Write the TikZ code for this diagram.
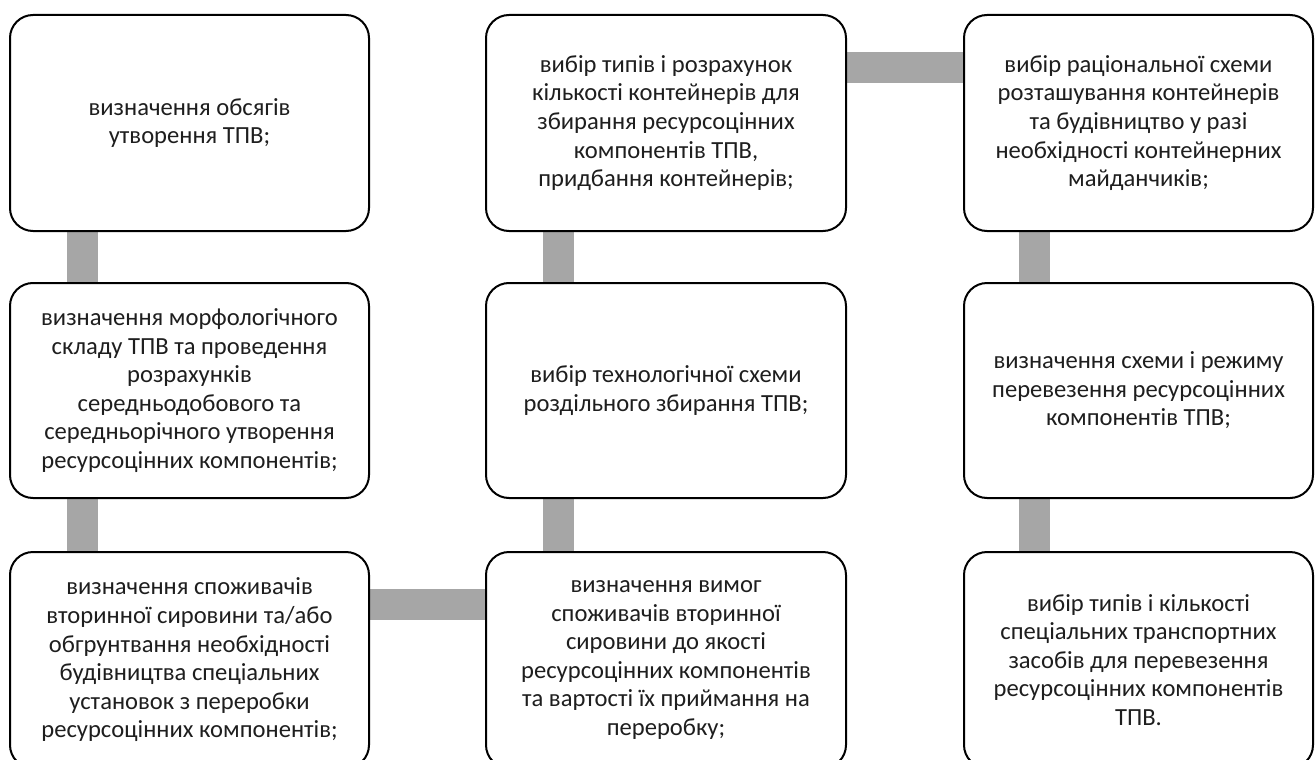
\documentclass[tikz,border=0pt]{standalone}
\usepackage{fontspec}
\setmainfont{Carlito}
\usetikzlibrary{backgrounds}
\definecolor{bargray}{HTML}{A6A6A6}
\definecolor{txt}{HTML}{1E1E1E}
\tikzset{
  box/.style={draw=black, line width=2pt, rounded corners=23pt, fill=white,
    rectangle, inner sep=0pt, align=center, text=txt,
    font=\fontsize{24.6}{28.6}\selectfont},
  bar/.style={draw=bargray, line width=31pt},
}
\begin{document}
\begin{tikzpicture}[x=1pt,y=-1pt]
\useasboundingbox (0,0) rectangle (1315,760);
\clip (0,0) rectangle (1315,760);
% column 1
\node[box, minimum width=359pt, minimum height=216pt] (a1) at (189.5,123) {визначення обсягів\\утворення ТПВ;};
\node[box, minimum width=359pt, minimum height=215pt] (a2) at (189.5,390.5) {визначення морфологічного\\складу ТПВ та проведення\\розрахунків\\середньодобового та\\середньорічного утворення\\ресурсоцінних компонентів;};
\node[box, minimum width=359pt, minimum height=216pt] (a3) at (189.5,660) {визначення споживачів\\вторинної сировини та/або\\обгрунтвання необхідності\\будівництва спеціальних\\установок з переробки\\ресурсоцінних компонентів;};
% column 2
\node[box, minimum width=360pt, minimum height=216pt] (b1) at (666,123) {вибір типів і розрахунок\\кількості контейнерів для\\збирання ресурсоцінних\\компонентів ТПВ,\\придбання контейнерів;};
\node[box, minimum width=360pt, minimum height=215pt] (b2) at (666,390.5) {вибір технологічної схеми\\роздільного збирання ТПВ;};
\node[box, minimum width=360pt, minimum height=216pt] (b3) at (666,660) {визначення вимог\\споживачів вторинної\\сировини до якості\\ресурсоцінних компонентів\\та вартості їх приймання на\\переробку;};
% column 3
\node[box, minimum width=349pt, minimum height=216pt] (c1) at (1138.5,123) {вибір раціональної схеми\\розташування контейнерів\\та будівництво у разі\\необхідності контейнерних\\майданчиків;};
\node[box, minimum width=349pt, minimum height=215pt] (c2) at (1138.5,390.5) {визначення схеми і режиму\\перевезення ресурсоцінних\\компонентів ТПВ;};
\node[box, minimum width=349pt, minimum height=216pt] (c3) at (1138.5,660) {вибір типів і кількості\\спеціальних транспортних\\засобів для перевезення\\ресурсоцінних компонентів\\ТПВ.};
\begin{scope}[on background layer]
\draw[bar] ([xshift=73.5pt]a1.south west) -- ([xshift=73.5pt]a2.north west);
\draw[bar] ([xshift=73.5pt]a2.south west) -- ([xshift=73.5pt]a3.north west);
\draw[bar] ([yshift=-53pt]a3.north east) -- ([yshift=-53pt]b3.north west);
\draw[bar] ([xshift=73.5pt]b3.north west) -- ([xshift=73.5pt]b2.south west);
\draw[bar] ([xshift=73.5pt]b2.north west) -- ([xshift=73.5pt]b1.south west);
\draw[bar] ([yshift=-53.5pt]b1.north east) -- ([yshift=-53.5pt]c1.north west);
\draw[bar] ([xshift=71pt]c1.south west) -- ([xshift=71pt]c2.north west);
\draw[bar] ([xshift=71pt]c2.south west) -- ([xshift=71pt]c3.north west);
\end{scope}
\end{tikzpicture}
\end{document}
